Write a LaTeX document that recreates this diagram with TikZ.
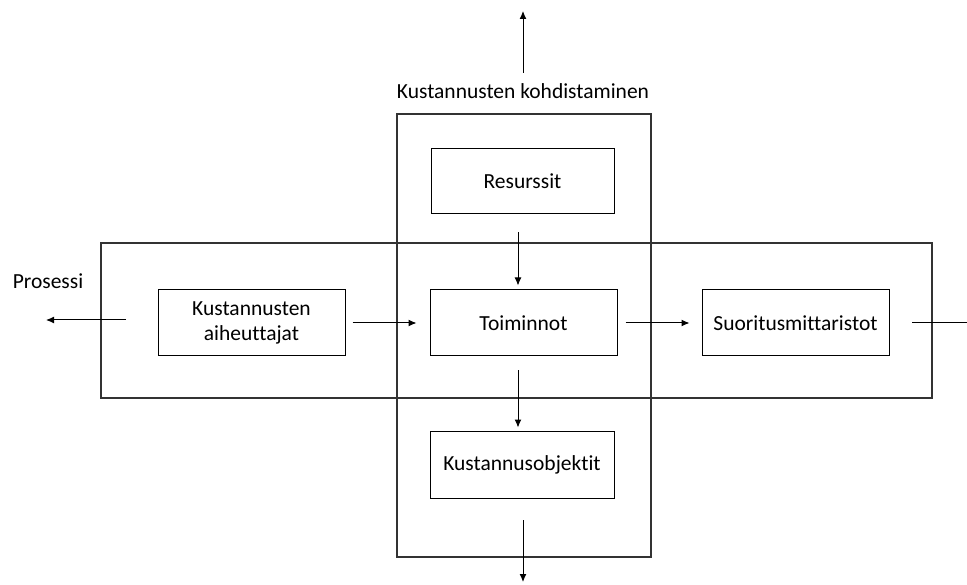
\documentclass[tikz,border=0pt]{standalone}
\usepackage{fontspec}
\setmainfont{Carlito}[Ligatures={NoCommon}]
\usetikzlibrary{arrows.meta}
\begin{document}
\begin{tikzpicture}[x=1pt,y=-1pt,
  box/.style={draw=black,line width=1pt,inner sep=0pt,align=center,font=\fontsize{21.5}{25}\selectfont},
  frame/.style={draw=black!80,line width=1.3pt,inner sep=0pt},
  lbl/.style={inner sep=0pt,font=\fontsize{21.5}{25}\selectfont},
  arr/.style={draw=black,line width=1pt,-{Latex[length=8pt,width=7pt]}},
  ln/.style={draw=black,line width=1pt}]
\useasboundingbox (0,0) rectangle (967,585);
% big frames
\node[frame,minimum width=254pt,minimum height=443pt] (vframe) at (524,335.5) {};
\node[frame,minimum width=831pt,minimum height=155pt] (hframe) at (516.5,320.5) {};
% boxes
\node[box,minimum width=183pt,minimum height=65pt] (res) at (522.5,181.5) {Resurssit};
\node[box,minimum width=187pt,minimum height=66pt] (toi) at (523.5,323) {Toiminnot};
\node[box,minimum width=187pt,minimum height=66pt] (ka) at (251.5,323) {Kustannusten\\aiheuttajat};
\node[box,minimum width=187pt,minimum height=66pt] (suo) at (795.5,323) {Suoritusmittaristot};
\node[box,minimum width=184pt,minimum height=67pt] (ko) at (522,464.5) {Kustannusobjektit};
% labels
\node[lbl] (kk) at (523,91) {Kustannusten kohdistaminen};
\node[lbl] (pr) at (48,281) {Prosessi};
% free ends
\coordinate (t0) at (523,73); \coordinate (t1) at (523,11);
\coordinate (b0) at (523,520); \coordinate (b1) at (523,582);
\coordinate (l0) at (126,320); \coordinate (l1) at (46,320);
\coordinate (r0) at (912,323); \coordinate (r1) at (967,323);
% connectors
\draw[arr,shorten <=18pt,shorten >=4pt] (res.south -| 518,0) -- (toi.north -| 518,0);
\draw[arr,shorten <=14pt,shorten >=3pt] (toi.south -| 518,0) -- (ko.north -| 518,0);
\draw[arr,shorten <=7pt,shorten >=13pt] (ka.east) -- (toi.west);
\draw[arr,shorten <=8pt,shorten >=12pt] (toi.east) -- (suo.west);
\draw[arr] (t0) -- (t1);
\draw[arr] (b0) -- (b1);
\draw[arr] (l0) -- (l1);
\draw[ln] (r0) -- (r1);
\end{tikzpicture}
\end{document}
